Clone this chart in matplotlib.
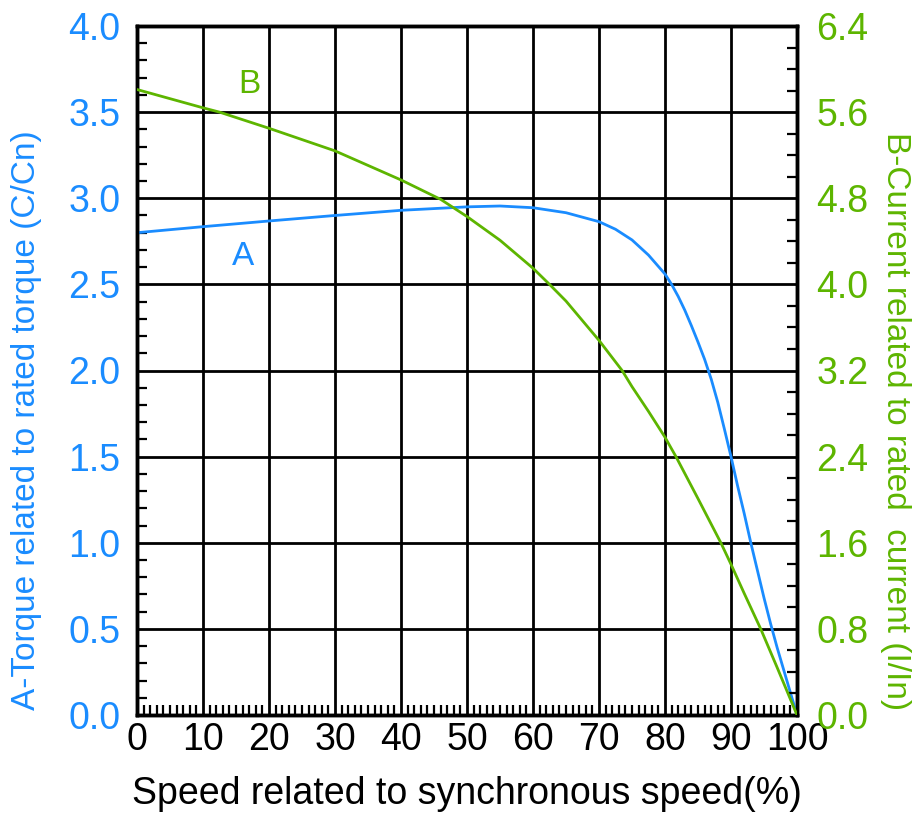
import matplotlib
matplotlib.use("Agg")
import matplotlib.pyplot as plt
from matplotlib.ticker import MultipleLocator

plt.rcParams['font.family'] = ['Liberation Sans', 'DejaVu Sans']

BLUE = "#1A8CFF"
GREEN = "#5DB500"

# Curve A: torque (C/Cn) vs speed (%)
speed_a = [0, 10, 20, 30, 40, 50, 55, 60, 65, 70, 72.5, 75, 77.5, 80, 81, 82, 83, 84,
           85, 86, 87, 88, 89, 90, 91, 92, 93, 94, 95, 96, 97, 98, 99, 100]
torque_a = [2.80, 2.835, 2.868, 2.90, 2.93, 2.95, 2.955, 2.945, 2.916, 2.864, 2.82, 2.758,
            2.67, 2.56, 2.50, 2.43, 2.35, 2.26, 2.165, 2.065, 1.95, 1.815, 1.66, 1.50, 1.33,
            1.17, 1.00, 0.84, 0.68, 0.53, 0.39, 0.26, 0.13, 0.0]

# Curve B: current (I/In) vs speed (%)
speed_b = [0, 10, 12.5, 20, 30, 40, 46, 50, 55, 60, 62.5, 65, 70, 73.5, 75, 77.5, 80,
           81.66, 85, 88.46, 90, 92, 94.5, 97, 100]
current_b = [5.81, 5.64, 5.60, 5.45, 5.24, 4.97, 4.79, 4.63, 4.41, 4.15, 4.0, 3.845, 3.48,
             3.2, 3.05, 2.82, 2.58, 2.40, 2.01, 1.6, 1.40, 1.13, 0.8, 0.44, 0.0]

x_ticks = [0, 10, 20, 30, 40, 50, 60, 70, 80, 90, 100]
left_ticks = [0.0, 0.5, 1.0, 1.5, 2.0, 2.5, 3.0, 3.5, 4.0]
right_ticks = [0.0, 0.8, 1.6, 2.4, 3.2, 4.0, 4.8, 5.6, 6.4]

W, H = 916, 815
fig = plt.figure(figsize=(W / 100, H / 100), dpi=100)
L, R, T, B = 137, 797, 26, 715
ax = fig.add_axes([L / W, 1 - B / H, (R - L) / W, (B - T) / H])
ax2 = ax.twinx()

ax.set_xlim(0, 100)
ax.set_ylim(0, 4.0)
ax2.set_ylim(0, 6.4)

ax.set_xticks(x_ticks)
ax.set_yticks(left_ticks)
ax.set_yticklabels([f"{v:.1f}" for v in left_ticks])
ax2.set_yticks(right_ticks)
ax2.set_yticklabels([f"{v:.1f}" for v in right_ticks])
ax.xaxis.set_minor_locator(MultipleLocator(1))
ax.yaxis.set_minor_locator(MultipleLocator(0.1))
ax2.yaxis.set_minor_locator(MultipleLocator(0.2))

ax.grid(True, which='major', color='black', linewidth=2.0)
ax.set_axisbelow(True)

TS = 27
ax.tick_params(axis='x', which='major', direction='in', length=0, pad=5,
               labelsize=TS, labelcolor='black')
ax.tick_params(axis='x', which='minor', direction='in', length=7, width=1.6, color='black')
ax.tick_params(axis='y', which='major', direction='in', length=0, pad=12,
               labelsize=TS, labelcolor=BLUE)
ax.tick_params(axis='y', which='minor', direction='in', length=7, width=1.6, color='black')
ax2.tick_params(axis='y', which='major', direction='in', length=0, pad=14,
                labelsize=TS, labelcolor=GREEN)
ax2.tick_params(axis='y', which='minor', direction='in', length=7, width=1.6, color='black')
ax.tick_params(axis='x', which='both', top=False)
ax.tick_params(axis='y', which='both', right=False)

for a in (ax, ax2):
    for s in a.spines.values():
        s.set_linewidth(2.5)
        s.set_color('black')

ax.plot(speed_a, torque_a, color=BLUE, linewidth=2.0, zorder=5)
ax2.plot(speed_b, current_b, color=GREEN, linewidth=2.0, zorder=5)

ax.text(16, 2.66, "A", color=BLUE, fontsize=24, ha='center', va='center')
ax.text(17, 3.66, "B", color=GREEN, fontsize=24, ha='center', va='center')

fig.text(467 / W, 1 - 794 / H, "Speed related to synchronous speed(%)", fontsize=27,
         color='black', ha='center', va='center')
fig.text(27 / W, 1 - 420 / H, "A-Torque related to rated torque (C/Cn)", fontsize=24,
         color=BLUE, rotation=90, ha='center', va='center')
fig.text(896 / W, 1 - 421 / H, "B-Current related to rated  current (I/In)", fontsize=24,
         color=GREEN, rotation=270, ha='center', va='center')

fig.savefig("out.png", dpi=100)
